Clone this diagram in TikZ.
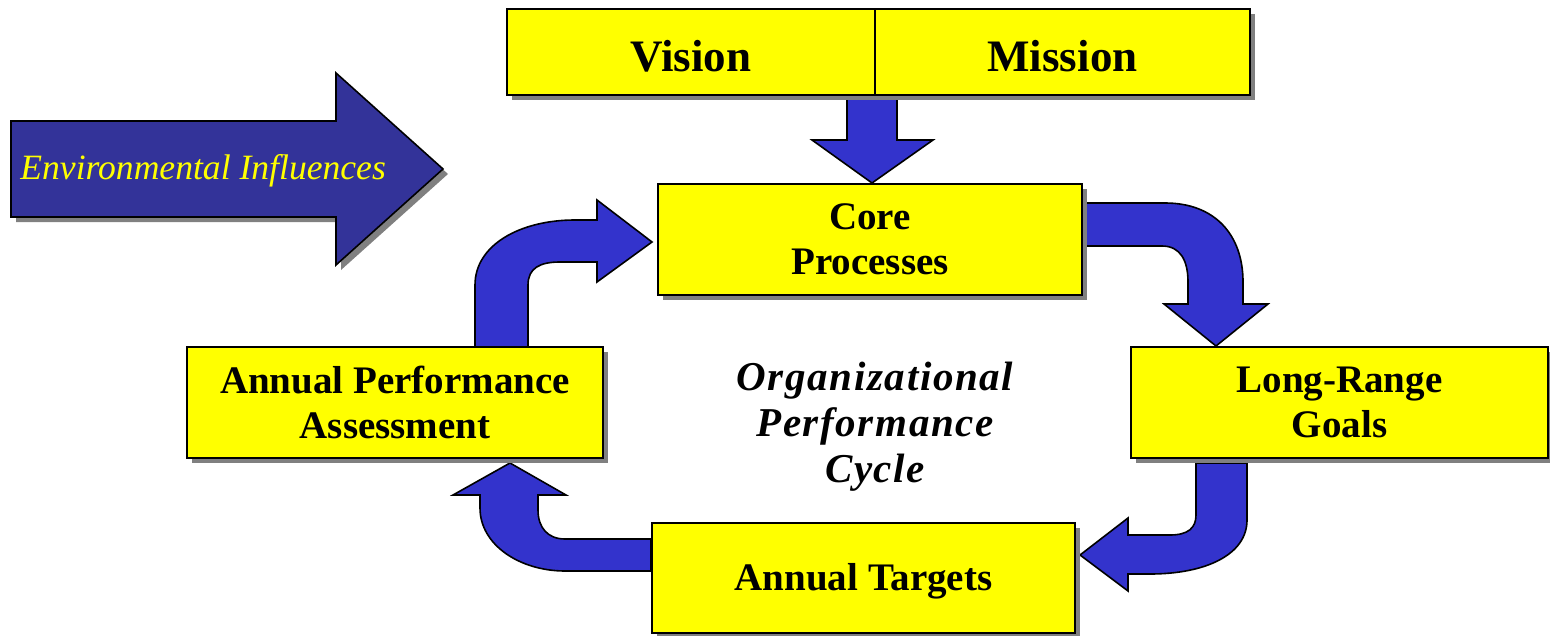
\documentclass[tikz,border=0pt]{standalone}
\usepackage{fontspec}
\setmainfont{Liberation Serif}
\usetikzlibrary{shadows,fit}
\definecolor{boxyellow}{HTML}{FFFF00}
\definecolor{cycleblue}{HTML}{3333CC}
\definecolor{envblue}{HTML}{333399}
\definecolor{shadowgray}{HTML}{808080}
\begin{document}
\begin{tikzpicture}[x=0.5pt,y=-0.5pt,
  shad/.style={drop shadow={shadow xshift=2.5pt,shadow yshift=-2.5pt,fill=shadowgray,opacity=1}},
  box/.style={draw=black,line width=1.1pt,fill=boxyellow,inner sep=0pt,align=center,shad},
  boxtext/.style={align=center,inner sep=0pt,font=\fontsize{19.5}{22.5}\selectfont\bfseries},
  bigtext/.style={inner sep=0pt,font=\fontsize{22.5}{26}\selectfont\bfseries},
  blockarrow/.style={draw=black,line width=0.8pt,fill=cycleblue,line join=miter},
  envarrow/.style={draw=black,line width=0.8pt,fill=envblue,shad},
  centertext/.style={align=center,font=\fontsize{20.5}{23}\selectfont\bfseries\itshape\addfontfeatures{LetterSpace=4}},
]
\useasboundingbox (0,0) rectangle (1550,636);

% environmental influences arrow
\draw[envarrow] (11,121) -- (336,121) -- (336,73) -- (443,169) -- (336,265) -- (336,217) -- (11,217) -- cycle;
\node[anchor=west,text=boxyellow,font=\fontsize{17.8}{20}\selectfont\itshape,inner sep=0pt] (env) at (20,171) {Environmental Influences};

% arrows of the cycle
\draw[blockarrow] (847,95) -- (897,95) -- (897,140) -- (933,140) -- (872,183) -- (812,140) -- (847,140) -- cycle;
\draw[blockarrow] (1082,203) -- (1165,203) .. controls (1215,203) and (1243,235) .. (1243,282) -- (1243,304) -- (1268,304) -- (1216,346) -- (1164,304) -- (1188,304) -- (1188,282) .. controls (1188,260) and (1180,246) .. (1162,246) -- (1082,246) -- cycle;
\draw[blockarrow] (1196,463) -- (1247,463) -- (1247,520) .. controls (1247,555) and (1205,574) .. (1150,574) -- (1128,574) -- (1128,591) -- (1080,555) -- (1128,518) -- (1128,535) -- (1170,535) .. controls (1188,535) and (1196,528) .. (1196,515) -- cycle;
\draw[blockarrow] (651,539) -- (565,539) .. controls (548,539) and (538,528) .. (538,510) -- (538,495) -- (566,495) -- (510,463) -- (453,495) -- (480,495) -- (480,508) .. controls (480,545) and (520,571) .. (565,571) -- (651,571) -- cycle;
\draw[blockarrow] (475,347) -- (475,285) .. controls (475,245) and (520,220) .. (575,220) -- (597,220) -- (597,200) -- (652,242) -- (597,282) -- (597,262) -- (560,262) .. controls (540,262) and (528,268) .. (528,285) -- (528,347) -- cycle;

% boxes
\node[box,fit={(507,9) (875,95)}] (vision) {};
\node[bigtext] (visiont) at ([yshift=-2pt]vision.center) {Vision};
\node[box,fit={(875,9) (1250,95)}] (mission) {};
\node[bigtext] (missiont) at ([yshift=-2pt]mission.center) {Mission};
\node[box,fit={(658,184) (1082,295)}] (core) {};
\node[boxtext] (coret) at (core.center) {Core\\Processes};
\node[box,fit={(1131,347) (1548,458)}] (lrg) {};
\node[boxtext] (lrgt) at (lrg.center) {Long-Range\\Goals};
\node[box,fit={(652,523) (1075,633)}] (at) {};
\node[boxtext] (att) at ([yshift=-1.5pt]at.center) {Annual Targets};
\node[box,fit={(187,347) (603,458)}] (apa) {};
\node[boxtext] (apat) at (apa.center) {Annual Performance\\Assessment};

\node[centertext] (cycle) at (875,427) {Organizational\\Performance\\Cycle};
\end{tikzpicture}
\end{document}
